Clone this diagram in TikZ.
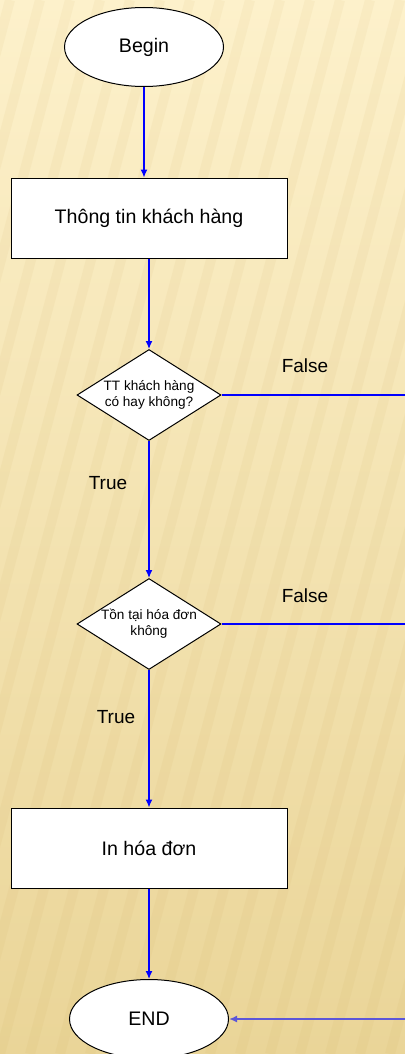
\documentclass[tikz,border=0pt]{standalone}
\usepackage{fontspec}
\setmainfont{Liberation Sans}
\usetikzlibrary{shapes.geometric,arrows.meta}
\definecolor{bgtop}{HTML}{FDF1CB}
\definecolor{bgbot}{HTML}{EAD598}
\definecolor{stripe}{HTML}{C8A050}
\definecolor{flow}{HTML}{0000FF}
\definecolor{flowsoft}{HTML}{5C56D8}
\begin{document}
\begin{tikzpicture}[x=0.5pt,y=-0.5pt,
  every node/.style={font=\fontsize{9.8}{11}\selectfont},
  term/.style={ellipse,draw=black,fill=white,line width=0.5pt,minimum width=79.5pt,minimum height=39.5pt,inner sep=0pt},
  proc/.style={rectangle,draw=black,fill=white,line width=0.5pt,minimum width=138pt,minimum height=40pt,inner sep=0pt},
  decis/.style={diamond,draw=black,fill=white,line width=0.5pt,minimum width=72pt,minimum height=45.5pt,inner sep=0pt,shape aspect=1.6,align=center,font=\fontsize{6.8}{8}\selectfont},
  flowline/.style={draw=flow,line width=0.6pt},
  tip/.style={-{Latex[length=4pt,width=3.5pt]}},
  lbl/.style={font=\fontsize{9.5}{11}\selectfont}
]
\useasboundingbox (0,0) rectangle (405,1054);
\fill[top color=bgtop,bottom color=bgbot] (0,0) rectangle (405,1054);
\begin{scope}
  \clip (0,0) rectangle (405,1054);
  \foreach \i in {-14,...,16} {
    \draw[stripe,opacity=0.07,line width=5pt] (\i*30,1054) -- (\i*30+280,0);
  }
\end{scope}

\node[term] (begin) at (144,47) {Begin};
\node[proc] (info) at (149,218) {Thông tin khách hàng};
\node[decis] (d1) at (149,395) {TT khách hàng\\có hay không?};
\node[decis] (d2) at (149,624) {Tồn tại hóa đơn\\không};
\node[proc] (print) at (149,848) {In hóa đơn};
\node[term] (end) at (149,1019) {END};

\node[lbl] (f1) at (305,366) {False};
\node[lbl] (t1) at (108,483) {True};
\node[lbl] (f2) at (305,596) {False};
\node[lbl] (t2) at (116,717) {True};

\draw[flowline,tip] (begin.south) -- (begin.south |- info.north);
\draw[flowline,tip] (info.south) -- (d1.north);
\draw[flowline,tip] (d1.south) -- (d2.north);
\draw[flowline,tip] (d2.south) -- (print.north);
\draw[flowline,tip] (print.south) -- (end.north);
\coordinate (r1) at (407,395);
\coordinate (r2) at (407,624);
\coordinate (r3) at (407,1019);
\draw[flowline] (d1.east) -- (r1) -- (r3);
\draw[flowline] (d2.east) -- (r2);
\draw[draw=flowsoft,line width=0.8pt,tip] (r3) -- (end.east);
\end{tikzpicture}
\end{document}
